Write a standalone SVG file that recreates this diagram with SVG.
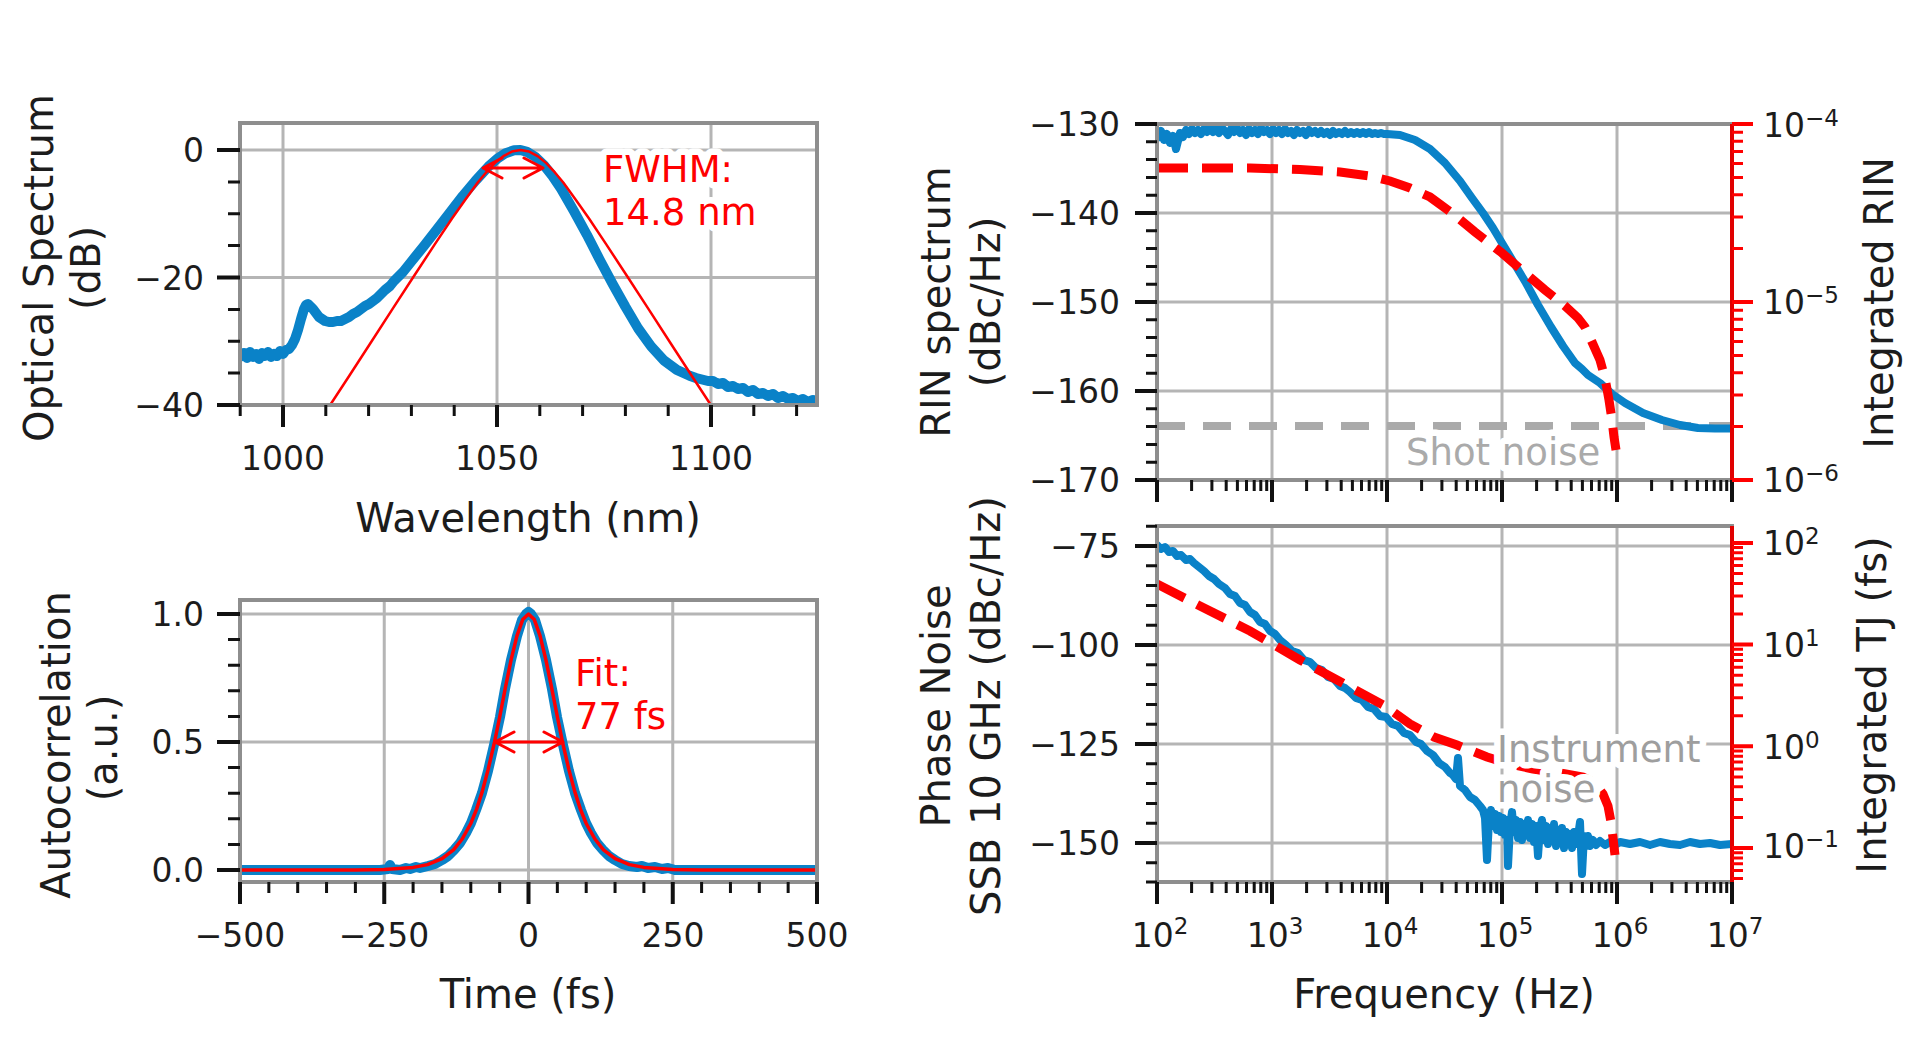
<svg xmlns="http://www.w3.org/2000/svg" width="1920" height="1039" viewBox="0 0 1920 1039">
<defs>
<style>
text{font-family:"DejaVu Sans","Liberation Sans",sans-serif;fill:#1c1c1c}
.tl{font-size:33px}
.ttl{font-size:40px}
.ann{font-size:37px;paint-order:stroke;stroke:#fff;stroke-width:13px;stroke-linejoin:round}
.grid{stroke:#b5b5b5;stroke-width:3;fill:none}
.frame{stroke:#8e8e8e;stroke-width:4;fill:none}
.tk{stroke:#111;stroke-width:4;fill:none}
.tkm{stroke:#111;stroke-width:3;fill:none}
.rtk{stroke:#ff0000;stroke-width:4;fill:none}
.rtkm{stroke:#ff0000;stroke-width:3;fill:none}
.blue{stroke:#0a82c8;fill:none;stroke-linejoin:round;stroke-linecap:round}
.fit{stroke:#ff0000;fill:none;stroke-linejoin:round}
.rdash{stroke:#ff0000;stroke-width:9;fill:none;stroke-dasharray:31 14}
.gdash{stroke:#aaaaaa;stroke-width:8;fill:none;stroke-dasharray:28 18}
.arr{stroke:#ff0000;stroke-width:3;fill:none;stroke-linecap:round;stroke-linejoin:round}
</style>
<clipPath id="c1"><rect x="240" y="123" width="577" height="282"/></clipPath>
<clipPath id="c2"><rect x="240" y="600" width="577" height="282"/></clipPath>
<clipPath id="c3"><rect x="1157" y="124" width="575" height="356"/></clipPath>
<clipPath id="c4"><rect x="1157" y="526" width="575" height="356"/></clipPath>
</defs>
<rect width="1920" height="1039" fill="#ffffff"/>

<g id="panel-spectrum">
<path class="grid" d="M283,123V405M497,123V405M711,123V405M240,150H817M240,277.5H817"/>
<g clip-path="url(#c1)">
<polyline class="blue" stroke-width="10" points="240,357 244,353 247,358 250,352 253,357 256,354 259,359 262,353 265,356 268,352 271,357 274,354 277,356 280,351 283,354 286,350 289,349 292,345 295,339 298,330 301,319 304,309 306,305 308,304 310,306 313,309 316,313 319,317 322,319 325,321 329,322 333,322 337,321 341,321 345,319 349,317 353,314 357,312 361,309 365,306 369,304 373,301 377,298 381,294 385,290 390,286 394,281 398,277 403,272 407,267 411,262 424.2,245.6 437.1,229.1 449.9,212.5 462.8,195.9 475.6,180.6 488.4,166.6 497,158.9 505.6,153.2 514.1,150.3 520.5,150 527,151.9 535.5,157 544.1,165.3 552.6,176.1 561.2,188.9 574,211.2 586.9,234.8 599.7,259.7 612.6,283.9 625.4,306.8 638.2,328.5 651.1,346.4 663.9,360.4 676.8,369.9 689.6,375.7 696,378 702,379.5 708,381 713,381 718,384 723,383 728,387 733,386 738,389 743,388 748,392 753,390 758,394 763,393 768,396 773,394 778,398 783,396 788,399 793,398 798,401 803,399 808,402 813,400 818,402"/>
<polyline class="fit" stroke-width="2.5" points="328,411 330,405.3 349.3,375.7 370.7,342.7 392.1,309.6 413.5,276.8 434.9,244.1 452,218.5 464.9,200.3 477.7,182.5 486.3,172.2 494.8,163.1 503.4,156.1 511.9,151.6 520.5,150 529.1,151.6 537.6,156.1 546.2,163.1 554.7,172.2 563.3,182.5 576.1,200.3 589,218.5 606.1,244.1 627.5,276.8 648.9,309.6 670.3,342.7 691.7,375.7 711,405.3 713,411"/>
</g>
<path class="arr" d="M483,168H543M502,158L483,168L502,178M524,158L543,168L524,178"/>
<rect class="frame" x="240" y="123" width="577" height="282"/>
<path class="tk" d="M240,150h-23M240,277.5h-23M240,405h-23M283,405v22M497,405v22M711,405v22"/>
<path class="tkm" d="M240,181.9h-12M240,213.75h-12M240,245.6h-12M240,309.4h-12M240,341.25h-12M240,373.1h-12M240.2,405v11M325.8,405v11M368.6,405v11M411.4,405v11M454.2,405v11M539.8,405v11M582.6,405v11M625.4,405v11M668.2,405v11M753.8,405v11M796.6,405v11"/>
<g class="tl" text-anchor="end">
<text x="204" y="162">0</text>
<text x="204" y="289.5">−20</text>
<text x="204" y="417">−40</text>
</g>
<g class="tl" text-anchor="middle">
<text x="283" y="470">1000</text>
<text x="497" y="470">1050</text>
<text x="711" y="470">1100</text>
</g>
<text class="ttl" x="528" y="532" text-anchor="middle">Wavelength (nm)</text>
<text class="ttl" transform="translate(53,268) rotate(-90)" text-anchor="middle">Optical Spectrum</text>
<text class="ttl" transform="translate(100,268) rotate(-90)" text-anchor="middle">(dB)</text>
<text class="ann" x="603" y="182" style="fill:#ff0000">FWHM:</text>
<text class="ann" x="603" y="225" style="fill:#ff0000">14.8 nm</text>
</g>

<g id="panel-autocorr">
<path class="grid" d="M384.25,600V882M528.5,600V882M672.75,600V882M240,614H817M240,742H817M240,870H817"/>
<g clip-path="url(#c2)">
<polyline class="blue" stroke-width="10" points="240,870 380,870 388,869 390,865 392,869 400,870 406,868 410,869 416,867 420,868 428,866 435,864 442,860 448,856 454,850 460,843 466,833 471,823 476,810 482,793 488,771 494,745 500,717 505,689 511,660 517,636 522,620 526,614 528.5,612 531,614 535,620 540,636 546,660 552,689 557,717 563,745 569,771 575,793 581,810 586,823 591,833 597,843 603,850 609,856 615,860 622,864 629,866 637,867 642,866 648,868 655,867 662,869 668,868 675,870 817,870"/>
<polyline class="fit" stroke-width="3.5" points="240,870 355.4,869.9 384.3,869.4 413.1,867.4 427.5,864.6 442,858.7 453.5,849.8 462.2,839 470.8,823.5 476.6,809.1 482.3,791.4 488.1,769.6 494.5,742.1 499.7,717 505.4,687.6 511.2,659.3 517,635.6 522.7,619.6 528.5,614 534.3,619.6 540,635.6 545.8,659.3 551.6,687.6 557.4,717 562.5,742.1 568.9,769.6 574.7,791.4 580.4,809.1 586.2,823.5 594.9,839 603.5,849.8 615.1,858.7 629.5,864.6 643.9,867.4 672.8,869.4 701.6,869.9 817,870"/>
</g>
<path class="arr" d="M495,742H563M514,732L495,742L514,752M544,732L563,742L544,752"/>
<rect class="frame" x="240" y="600" width="577" height="282"/>
<path class="tk" d="M240,614h-23M240,742h-23M240,870h-23M240,882v22M384.25,882v22M528.5,882v22M672.75,882v22M817,882v22"/>
<path class="tkm" d="M240,844.4h-12M240,818.8h-12M240,793.2h-12M240,767.6h-12M240,716.4h-12M240,690.8h-12M240,665.2h-12M240,639.6h-12M268.85,882v11M297.7,882v11M326.55,882v11M355.4,882v11M413.1,882v11M441.95,882v11M470.8,882v11M499.65,882v11M557.35,882v11M586.2,882v11M615.05,882v11M643.9,882v11M701.6,882v11M730.45,882v11M759.3,882v11M788.15,882v11"/>
<g class="tl" text-anchor="end">
<text x="204" y="626">1.0</text>
<text x="204" y="754">0.5</text>
<text x="204" y="882">0.0</text>
</g>
<g class="tl" text-anchor="middle">
<text x="240" y="947">−500</text>
<text x="384" y="947">−250</text>
<text x="528.5" y="947">0</text>
<text x="673" y="947">250</text>
<text x="817" y="947">500</text>
</g>
<text class="ttl" x="528" y="1008" text-anchor="middle">Time (fs)</text>
<text class="ttl" transform="translate(70,745) rotate(-90)" text-anchor="middle">Autocorrelation</text>
<text class="ttl" transform="translate(117,748) rotate(-90)" text-anchor="middle">(a.u.)</text>
<text class="ann" x="575" y="686" style="fill:#ff0000">Fit:</text>
<text class="ann" x="575" y="729" style="fill:#ff0000">77 fs</text>
</g>

<g id="panel-rin">
<path class="grid" d="M1272,124V480M1387,124V480M1502,124V480M1617,124V480M1157,213H1732M1157,302H1732M1157,391H1732"/>
<g clip-path="url(#c3)">
<line class="gdash" x1="1157" y1="426" x2="1732" y2="426"/>
<polyline class="blue" stroke-width="8" points="1157,138 1161,131 1164,140 1167,134 1170,143 1173,136 1176,149 1178,141 1180,133 1183,137 1186,130 1189,134 1192,129 1195,133 1198,130 1201,134 1204,129 1207,132 1210,128 1213,132 1216,129 1219,133 1222,128 1225,131 1228,135 1231,129 1234,132 1237,128 1240,133 1243,130 1246,135 1249,129 1252,133 1255,130 1258,134 1261,128 1264,132 1267,130 1270,134 1273,129 1276,133 1279,130 1282,134 1285,129 1288,133 1291,131 1294,135 1297,130 1300,133 1303,131 1306,135 1309,130 1312,133 1315,131 1318,134 1321,131 1324,134 1327,132 1330,135 1333,131 1336,134 1339,132 1342,134 1345,131 1348,134 1351,132 1354,134 1357,132 1360,134 1363,132 1366,134 1369,132 1372,134 1375,133 1378,134 1381,133 1384,134 1387,134 1400,135 1415,140 1430,149 1445,163 1460,181 1472,198 1483,213 1493,228 1502,243 1514,263 1526,283 1538,305 1551,327 1563,346 1575,363 1582,369 1588,375 1600,383 1612,394 1625,403 1643,413 1662,420 1680,425 1698,428 1715,428.5 1732,428.5"/>
<polyline class="rdash" points="1157,168 1250,168 1300,169.5 1340,172 1370,176 1390,181 1410,188 1430,197 1452,213 1475,232 1502,253 1525,273 1545,290 1565,306 1578,318 1585,327 1592,342 1600,360 1605,378 1609,400 1612,420 1614,437 1616,450"/>
</g>
<rect class="frame" x="1157" y="124" width="575" height="356"/>
<line x1="1732" y1="124" x2="1732" y2="480" stroke="#e00000" stroke-width="4"/>
<path class="tk" d="M1157,124h-22M1157,213h-22M1157,302h-22M1157,391h-22M1157,480h-22M1157,480v22M1272,480v22M1387,480v22M1502,480v22M1617,480v22M1732,480v22"/>
<path class="tkm" d="M1157,141.8h-11M1157,159.6h-11M1157,177.4h-11M1157,195.2h-11M1157,230.8h-11M1157,248.6h-11M1157,266.4h-11M1157,284.2h-11M1157,319.8h-11M1157,337.6h-11M1157,355.4h-11M1157,373.2h-11M1157,408.8h-11M1157,426.6h-11M1157,444.4h-11M1157,462.2h-11M1191.6,480v11M1211.9,480v11M1226.2,480v11M1237.4,480v11M1246.5,480v11M1254.2,480v11M1260.8,480v11M1266.7,480v11M1306.6,480v11M1326.9,480v11M1341.2,480v11M1352.4,480v11M1361.5,480v11M1369.2,480v11M1375.8,480v11M1381.7,480v11M1421.6,480v11M1441.9,480v11M1456.2,480v11M1467.4,480v11M1476.5,480v11M1484.2,480v11M1490.8,480v11M1496.7,480v11M1536.6,480v11M1556.9,480v11M1571.2,480v11M1582.4,480v11M1591.5,480v11M1599.2,480v11M1605.8,480v11M1611.7,480v11M1651.6,480v11M1671.9,480v11M1686.2,480v11M1697.4,480v11M1706.5,480v11M1714.2,480v11M1720.8,480v11M1726.7,480v11"/>
<path class="rtk" d="M1732,124h21M1732,302h21M1732,480h21"/>
<path class="rtkm" d="M1732,426.4h11M1732,395.1h11M1732,372.8h11M1732,355.6h11M1732,341.5h11M1732,329.6h11M1732,319.3h11M1732,310.2h11M1732,248.4h11M1732,217.1h11M1732,194.8h11M1732,177.6h11M1732,163.5h11M1732,151.6h11M1732,141.3h11M1732,132.2h11"/>
<g class="tl" text-anchor="end">
<text x="1120" y="136">−130</text>
<text x="1120" y="225">−140</text>
<text x="1120" y="314">−150</text>
<text x="1120" y="403">−160</text>
<text x="1120" y="492">−170</text>
</g>
<g class="tl">
<text x="1763" y="136.5">10<tspan dy="-11" font-size="23">−4</tspan></text>
<text x="1763" y="314">10<tspan dy="-11" font-size="23">−5</tspan></text>
<text x="1763" y="492">10<tspan dy="-11" font-size="23">−6</tspan></text>
</g>
<text class="ttl" transform="translate(950,302) rotate(-90)" text-anchor="middle">RIN spectrum</text>
<text class="ttl" transform="translate(1000,302) rotate(-90)" text-anchor="middle">(dBc/Hz)</text>
<text class="ttl" transform="translate(1893,303) rotate(-90)" text-anchor="middle">Integrated RIN</text>
<text class="ann" x="1406" y="465" style="fill:#aaaaaa">Shot noise</text>
</g>

<g id="panel-phase">
<path class="grid" d="M1272,526V882M1387,526V882M1502,526V882M1617,526V882M1157,546H1732M1157,645H1732M1157,744H1732M1157,843H1732"/>
<g clip-path="url(#c4)">
<polyline class="blue" stroke-width="8" points="1157,545 1161,549 1165,547 1169,552 1173,551 1177,556 1181,555 1186,560 1190,559 1194,563 1199,567 1204,571 1209,576 1214,579 1219,584 1225,588 1230,594 1235,596 1240,603 1245,605 1250,612 1255,615 1260,622 1265,624 1270,631 1275,634 1280,640 1286,645 1292,651 1298,653 1304,660 1310,662 1316,668 1322,670 1328,677 1334,679 1340,686 1345,688 1350,692 1356,698 1362,700 1368,707 1374,709 1380,716 1386,717 1392,724 1398,726 1404,733 1410,735 1416,742 1421,744 1427,751 1433,755 1439,763 1445,767 1450,773 1453,775 1456,779 1458,758 1460,786 1465,790 1470,797 1475,800 1480,806 1483,810 1485,818 1487,860 1489,820 1491,810 1493,826 1495,814 1497,830 1499,816 1501,832 1503,818 1505,835 1507,820 1508,866 1510,826 1512,812 1514,832 1516,820 1518,838 1520,822 1522,840 1524,824 1526,834 1528,820 1530,838 1532,824 1534,842 1536,826 1538,856 1540,828 1542,820 1544,840 1546,826 1548,844 1550,828 1552,838 1554,824 1556,846 1558,830 1560,842 1562,828 1564,848 1566,832 1568,844 1570,834 1572,848 1574,832 1576,844 1578,836 1580,822 1582,874 1584,836 1586,844 1588,836 1590,846 1593,840 1596,845 1600,841 1605,845 1610,842 1615,845 1620,842 1630,844 1640,842 1650,845 1660,842 1670,844 1680,845 1690,842 1700,844 1710,843 1720,845 1732,844"/>
<polyline class="rdash" points="1157,584 1200,606 1250,631 1300,660 1350,687 1385,706 1410,724 1434,737 1457,745 1487,757 1510,764 1533,769 1560,773 1583,777 1595,783 1603,794 1608,806 1611,822 1613,838 1615,855"/>
</g>
<rect class="frame" x="1157" y="526" width="575" height="356"/>
<line x1="1732" y1="526" x2="1732" y2="882" stroke="#e00000" stroke-width="4"/>
<path class="tk" d="M1157,546h-22M1157,645h-22M1157,744h-22M1157,843h-22M1157,882v22M1272,882v22M1387,882v22M1502,882v22M1617,882v22M1732,882v22"/>
<path class="tkm" d="M1157,526.2h-11M1157,565.8h-11M1157,585.6h-11M1157,605.4h-11M1157,625.2h-11M1157,664.8h-11M1157,684.6h-11M1157,704.4h-11M1157,724.2h-11M1157,763.8h-11M1157,783.6h-11M1157,803.4h-11M1157,823.2h-11M1157,862.8h-11M1157,882h-11M1191.6,882v11M1211.9,882v11M1226.2,882v11M1237.4,882v11M1246.5,882v11M1254.2,882v11M1260.8,882v11M1266.7,882v11M1306.6,882v11M1326.9,882v11M1341.2,882v11M1352.4,882v11M1361.5,882v11M1369.2,882v11M1375.8,882v11M1381.7,882v11M1421.6,882v11M1441.9,882v11M1456.2,882v11M1467.4,882v11M1476.5,882v11M1484.2,882v11M1490.8,882v11M1496.7,882v11M1536.6,882v11M1556.9,882v11M1571.2,882v11M1582.4,882v11M1591.5,882v11M1599.2,882v11M1605.8,882v11M1611.7,882v11M1651.6,882v11M1671.9,882v11M1686.2,882v11M1697.4,882v11M1706.5,882v11M1714.2,882v11M1720.8,882v11M1726.7,882v11"/>
<path class="rtk" d="M1732,542.9h21M1732,644.6h21M1732,746.3h21M1732,848h21"/>
<path class="rtkm" d="M1732,878.6h11M1732,870.6h11M1732,863.8h11M1732,857.9h11M1732,852.7h11M1732,817.4h11M1732,799.5h11M1732,786.8h11M1732,776.9h11M1732,768.9h11M1732,762.1h11M1732,756.2h11M1732,751h11M1732,715.7h11M1732,697.8h11M1732,685.1h11M1732,675.2h11M1732,667.2h11M1732,660.4h11M1732,654.5h11M1732,649.3h11M1732,614h11M1732,596.1h11M1732,583.4h11M1732,573.5h11M1732,565.5h11M1732,558.7h11M1732,552.8h11M1732,547.6h11"/>
<g class="tl" text-anchor="end">
<text x="1120" y="558">−75</text>
<text x="1120" y="657">−100</text>
<text x="1120" y="756">−125</text>
<text x="1120" y="855">−150</text>
</g>
<g class="tl">
<text x="1763" y="555">10<tspan dy="-11" font-size="23">2</tspan></text>
<text x="1763" y="656.5">10<tspan dy="-11" font-size="23">1</tspan></text>
<text x="1763" y="758.5">10<tspan dy="-11" font-size="23">0</tspan></text>
<text x="1763" y="858">10<tspan dy="-11" font-size="23">−1</tspan></text>
</g>
<g class="tl" text-anchor="middle">
<text x="1160" y="947">10<tspan dy="-13" font-size="23">2</tspan></text>
<text x="1275" y="947">10<tspan dy="-13" font-size="23">3</tspan></text>
<text x="1390" y="947">10<tspan dy="-13" font-size="23">4</tspan></text>
<text x="1505" y="947">10<tspan dy="-13" font-size="23">5</tspan></text>
<text x="1620" y="947">10<tspan dy="-13" font-size="23">6</tspan></text>
<text x="1735" y="947">10<tspan dy="-13" font-size="23">7</tspan></text>
</g>
<text class="ttl" x="1444" y="1008" text-anchor="middle">Frequency (Hz)</text>
<text class="ttl" transform="translate(950,706) rotate(-90)" text-anchor="middle">Phase Noise</text>
<text class="ttl" transform="translate(1000,706) rotate(-90)" text-anchor="middle">SSB 10 GHz (dBc/Hz)</text>
<text class="ttl" transform="translate(1886,705) rotate(-90)" text-anchor="middle">Integrated TJ (fs)</text>
<text class="ann" x="1497" y="762" style="fill:#9e9e9e">Instrument</text>
<text class="ann" x="1497" y="802" style="fill:#9e9e9e">noise</text>
</g>
</svg>
